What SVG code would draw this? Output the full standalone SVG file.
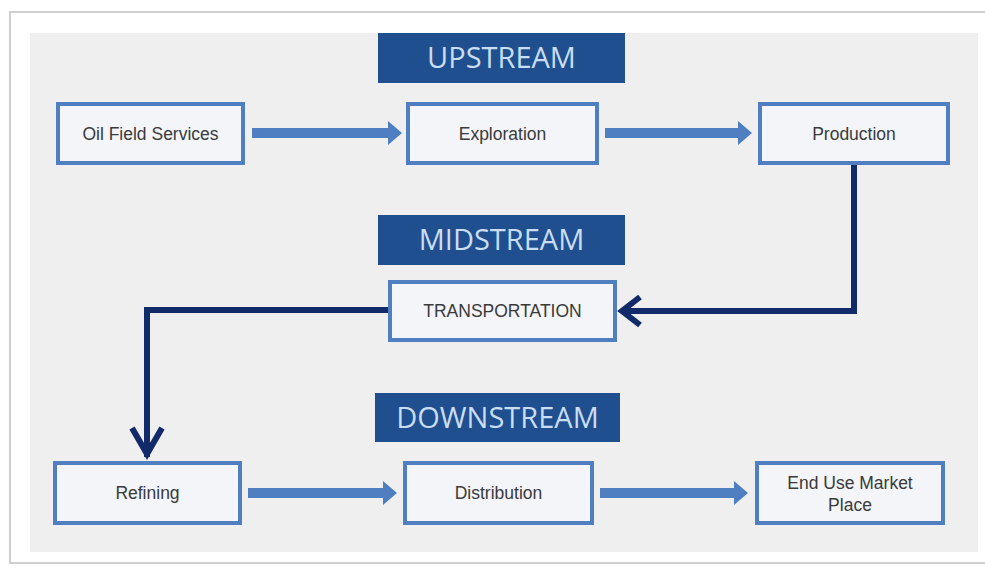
<svg xmlns="http://www.w3.org/2000/svg" width="985" height="568" viewBox="0 0 985 568">
<style>
.box{fill:#f3f5f9;stroke:#4f7fc0;stroke-width:4}
.lbl{font-family:"Liberation Sans",Arial,sans-serif;font-size:17.5px;fill:#3a3a3a;text-anchor:middle}
.ban{fill:#1f4f8f}
.bt{font-family:"Open Sans","Liberation Sans",sans-serif;font-size:29px;fill:#c9ddf3;text-anchor:middle}
.fl{fill:#4f7fc0}
.dk{fill:none;stroke:#102a6a;stroke-width:6;stroke-linejoin:miter}
.frame{fill:none;stroke:#cfcfcf;stroke-width:2}
</style>
<rect x="0" y="0" width="985" height="568" fill="#ffffff"/>
<path class="frame" d="M985,12 H10 V563 H985"/>
<rect x="30" y="33" width="948" height="519" fill="#efefef"/>

<g id="connectors">
<path class="fl" d="M252,128 H388 V121 L402,133 L388,145 V138 H252 Z"/>
<path class="fl" d="M605,128 H738 V121 L752,133 L738,145 V138 H605 Z"/>
<path class="fl" d="M248,488 H383 V481 L397,493 L383,505 V498 H248 Z"/>
<path class="fl" d="M600,488 H734 V481 L748,493 L734,505 V498 H600 Z"/>
<path class="dk" d="M854,163 V311 H622"/>
<path class="dk" d="M640,297 L622,311 L640,325"/>
<path class="dk" d="M390,310 H147 V457"/>
<path class="dk" d="M132,428 L147,454 L162,428"/>
</g>

<g id="upstream"><rect class="ban" x="378" y="33" width="247" height="50"/><text class="bt" x="501.5" y="68">UPSTREAM</text></g>
<g id="midstream"><rect class="ban" x="378" y="215" width="247" height="50"/><text class="bt" x="501.5" y="250">MIDSTREAM</text></g>
<g id="downstream"><rect class="ban" x="375" y="393" width="245" height="49"/><text class="bt" x="497.5" y="428">DOWNSTREAM</text></g>

<g id="oilfield"><rect class="box" x="58" y="104" width="185" height="59"/><text class="lbl" x="150.5" y="140">Oil Field Services</text></g>
<g id="exploration"><rect class="box" x="408" y="104" width="189" height="59"/><text class="lbl" x="502.5" y="140">Exploration</text></g>
<g id="production"><rect class="box" x="760" y="104" width="188" height="59"/><text class="lbl" x="854" y="140">Production</text></g>
<g id="transportation"><rect class="box" x="390" y="282" width="225" height="58"/><text class="lbl" x="502.5" y="317">TRANSPORTATION</text></g>
<g id="refining"><rect class="box" x="55" y="463" width="185" height="60"/><text class="lbl" x="147.5" y="499">Refining</text></g>
<g id="distribution"><rect class="box" x="405" y="463" width="187" height="60"/><text class="lbl" x="498.5" y="499">Distribution</text></g>
<g id="enduse"><rect class="box" x="757" y="463" width="186" height="60"/><text class="lbl" x="850" y="489">End Use Market</text><text class="lbl" x="850" y="511">Place</text></g>
</svg>
